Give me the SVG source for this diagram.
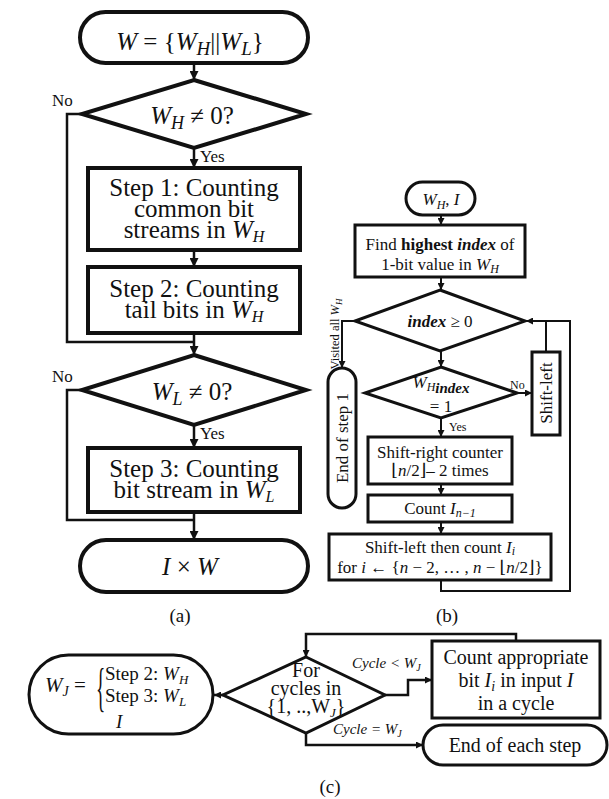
<svg xmlns="http://www.w3.org/2000/svg" width="609" height="799" viewBox="0 0 609 799" font-family="'Liberation Serif', 'DejaVu Serif', serif">
  <defs>
    <marker id="arr" viewBox="0 0 10 10" refX="10" refY="5" markerWidth="9" markerHeight="9" markerUnits="userSpaceOnUse" orient="auto">
      <path d="M0,0 L10,5 L0,10 z" fill="#111"/>
    </marker>
    <marker id="arrS" viewBox="0 0 10 10" refX="10" refY="5" markerWidth="7" markerHeight="7" markerUnits="userSpaceOnUse" orient="auto">
      <path d="M0,0 L10,5 L0,10 z" fill="#111"/>
    </marker>
  </defs>
  <style>
    text { font-family: 'Liberation Serif', 'DejaVu Serif', serif; fill: #111; }
    .sa { fill: #fff; stroke: #111; stroke-width: 4; }
    .sb { fill: #fff; stroke: #111; stroke-width: 3; }
    .sc { fill: #fff; stroke: #111; stroke-width: 3; }
    .la { fill: none; stroke: #111; stroke-width: 2.5; }
    .lb { fill: none; stroke: #111; stroke-width: 2; }
    .lc { fill: none; stroke: #111; stroke-width: 2.5; }
    .i { font-style: italic; }
    .bi { font-style: italic; font-weight: bold; }
    .ta { font-size: 25px; text-anchor: middle; }
    .tb { font-size: 17px; text-anchor: middle; }
    .tc { font-size: 20px; text-anchor: middle; }
    .cap { font-size: 19px; text-anchor: middle; }
  </style>

  <rect width="609" height="799" fill="#fff"/>

  <!-- ===== (a) overall flow ===== -->
  <g id="connectors-a">
    <line class="la" x1="194" y1="63" x2="194" y2="80" marker-end="url(#arr)"/>
    <line class="la" x1="194" y1="148" x2="194" y2="168" marker-end="url(#arr)"/>
    <line class="la" x1="194" y1="250" x2="194" y2="267" marker-end="url(#arr)"/>
    <line class="la" x1="194" y1="333" x2="194" y2="355" marker-end="url(#arr)"/>
    <polyline class="la" points="82,114 67,114 67,342 194,342"/>
    <line class="la" x1="194" y1="425" x2="194" y2="448" marker-end="url(#arr)"/>
    <line class="la" x1="194" y1="512" x2="194" y2="540" marker-end="url(#arr)"/>
    <polyline class="la" points="82,390 67,390 67,520 194,520"/>
    <text x="52" y="106" font-size="17">No</text>
    <text x="200" y="162" font-size="17">Yes</text>
    <text x="52" y="382" font-size="17">No</text>
    <text x="200" y="439" font-size="17">Yes</text>
  </g>

  <g id="a-start">
    <rect class="sa" x="80" y="12" width="228" height="51" rx="25.5"/>
    <text class="ta" x="190" y="50" font-size="29"><tspan class="i">W</tspan> = {<tspan class="i">W</tspan><tspan font-size="19" dy="5" class="i">H</tspan><tspan dy="-5">||</tspan><tspan class="i">W</tspan><tspan font-size="19" dy="5" class="i">L</tspan><tspan dy="-5">}</tspan></text>
  </g>
  <g id="a-check-wh">
    <polygon class="sa" points="194,80 306,114 194,148 82,114"/>
    <text class="ta" x="192" y="124" font-size="27"><tspan class="i">W</tspan><tspan font-size="18" dy="5" class="i">H</tspan><tspan dy="-5"> ≠ 0?</tspan></text>
  </g>
  <g id="a-step1">
    <rect class="sa" x="88" y="168" width="212" height="82"/>
    <text class="ta" x="194" y="196">Step 1: Counting</text>
    <text class="ta" x="194" y="217">common bit</text>
    <text class="ta" x="194" y="238">streams in <tspan class="i">W</tspan><tspan font-size="16" dy="4" class="i">H</tspan></text>
  </g>
  <g id="a-step2">
    <rect class="sa" x="88" y="267" width="212" height="66"/>
    <text class="ta" x="194" y="297">Step 2: Counting</text>
    <text class="ta" x="194" y="318">tail bits in <tspan class="i">W</tspan><tspan font-size="16" dy="4" class="i">H</tspan></text>
  </g>
  <g id="a-check-wl">
    <polygon class="sa" points="194,355 306,390 194,425 82,390"/>
    <text class="ta" x="192" y="400" font-size="27"><tspan class="i">W</tspan><tspan font-size="18" dy="5" class="i">L</tspan><tspan dy="-5"> ≠ 0?</tspan></text>
  </g>
  <g id="a-step3">
    <rect class="sa" x="88" y="448" width="212" height="64"/>
    <text class="ta" x="194" y="477">Step 3: Counting</text>
    <text class="ta" x="194" y="498">bit stream in <tspan class="i">W</tspan><tspan font-size="16" dy="4" class="i">L</tspan></text>
  </g>
  <g id="a-end">
    <rect class="sa" x="80" y="540" width="228" height="52" rx="26"/>
    <text class="ta" x="190" y="575" font-size="28"><tspan class="i">I</tspan> × <tspan class="i">W</tspan></text>
  </g>
  <text class="cap" x="180" y="622">(a)</text>

  <!-- ===== (b) step 1 detail ===== -->
  <g id="connectors-b">
    <line class="lb" x1="441" y1="215" x2="441" y2="225" marker-end="url(#arrS)"/>
    <line class="lb" x1="441" y1="277" x2="441" y2="290" marker-end="url(#arrS)"/>
    <line class="lb" x1="441" y1="351" x2="441" y2="367" marker-end="url(#arrS)"/>
    <line class="lb" x1="441" y1="418" x2="441" y2="437" marker-end="url(#arrS)"/>
    <line class="lb" x1="441" y1="484" x2="441" y2="495" marker-end="url(#arrS)"/>
    <line class="lb" x1="441" y1="522" x2="441" y2="534" marker-end="url(#arrS)"/>
    <line class="lb" x1="517" y1="393" x2="532" y2="393" marker-end="url(#arrS)"/>
    <polyline class="lb" points="441,580 441,591 570,591 570,321 526,321" marker-end="url(#arrS)"/>
    <line class="lb" x1="546" y1="352" x2="546" y2="321"/>
    <polyline class="lb" points="356,321 342,321 342,368" marker-end="url(#arrS)"/>
    <text x="510" y="389" font-size="12">No</text>
    <text x="449" y="431" font-size="12">Yes</text>
    <text transform="translate(339,334) rotate(-90)" font-size="12.5" text-anchor="middle">Visited all <tspan class="i">W</tspan><tspan class="i" font-size="9" dy="3">H</tspan></text>
  </g>

  <g id="b-start">
    <rect class="sb" x="406" y="182" width="69" height="33" rx="16.5"/>
    <text class="tb" x="441" y="205" font-size="18"><tspan class="i">W</tspan><tspan class="i" font-size="12" dy="4">H</tspan><tspan dy="-4">, </tspan><tspan class="i">I</tspan></text>
  </g>
  <g id="b-find">
    <rect class="sb" x="355" y="225" width="170" height="52"/>
    <text class="tb" x="440" y="250">Find <tspan font-weight="bold">highest</tspan> <tspan class="bi">index</tspan> of</text>
    <text class="tb" x="440" y="270">1-bit value in <tspan class="i">W</tspan><tspan class="i" font-size="12" dy="3">H</tspan></text>
  </g>
  <g id="b-index">
    <polygon class="sb" points="440,290 525,321 440,351 355,321"/>
    <text class="tb" x="440" y="327" font-size="18"><tspan class="bi">index</tspan> ≥ 0</text>
  </g>
  <g id="b-bit">
    <polygon class="sb" points="441,367 517,393 441,418 365,393"/>
    <text class="tb" x="441" y="388" font-size="18"><tspan class="i">W</tspan><tspan class="i" font-size="12" dy="3">H</tspan><tspan class="bi" font-size="15" dy="2">index</tspan></text>
    <text class="tb" x="441" y="412" font-size="18">= 1</text>
  </g>
  <g id="b-shift-left">
    <rect class="sb" x="532" y="352" width="28" height="83"/>
    <text class="tb" transform="translate(552,393) rotate(-90)">Shift-left</text>
  </g>
  <g id="b-end">
    <rect class="sb" x="328" y="368" width="28" height="140" rx="14"/>
    <text class="tb" transform="translate(348,438) rotate(-90)" font-size="18">End of step 1</text>
  </g>
  <g id="b-shift-right">
    <rect class="sb" x="368" y="437" width="144" height="47"/>
    <text class="tb" x="440" y="458">Shift-right counter</text>
    <text class="tb" x="440" y="476">⌊<tspan class="i">n</tspan>/2⌋– 2 times</text>
  </g>
  <g id="b-count">
    <rect class="sb" x="368" y="495" width="144" height="27"/>
    <text class="tb" x="440" y="514">Count <tspan class="i">I</tspan><tspan class="i" font-size="12" dy="3">n−1</tspan></text>
  </g>
  <g id="b-shift-count">
    <rect class="sb" x="329" y="534" width="222" height="46"/>
    <text class="tb" x="440" y="553">Shift-left then count <tspan class="i">I</tspan><tspan class="i" font-size="12" dy="2">i</tspan></text>
    <text class="tb" x="440" y="573">for <tspan class="i">i</tspan> ← {<tspan class="i">n</tspan> − 2, … , <tspan class="i">n</tspan> − ⌊<tspan class="i">n</tspan>/2⌋}</text>
  </g>
  <text class="cap" x="447" y="622">(b)</text>

  <!-- ===== (c) per-step loop ===== -->
  <g id="connectors-c">
    <line class="lc" x1="223" y1="695" x2="214" y2="695" marker-end="url(#arrS)"/>
    <polyline class="lc" points="516,641 516,634 306,634 306,657" marker-end="url(#arrS)"/>
    <polyline class="lc" points="385,695 408,695 408,680 432,680" marker-end="url(#arrS)"/>
    <polyline class="lc" points="306,733 306,745 423,745" marker-end="url(#arrS)"/>
    <text x="352" y="668" font-size="15" class="i">Cycle &lt; W<tspan font-size="10" dy="3">J</tspan></text>
    <text x="333" y="734" font-size="15" class="i">Cycle = W<tspan font-size="10" dy="3">J</tspan></text>
  </g>

  <g id="c-start">
    <rect class="sc" x="29" y="655" width="184" height="79" rx="39.5"/>
    <text x="45" y="692" font-size="21"><tspan class="i">W</tspan><tspan class="i" font-size="14" dy="4">J</tspan><tspan dy="-4"> =</tspan></text>
    <text transform="translate(96,705) scale(0.42,1.15)" font-size="46">{</text>
    <text x="105" y="680" font-size="19">Step 2: <tspan class="i">W</tspan><tspan class="i" font-size="13" dy="4">H</tspan></text>
    <text x="105" y="702" font-size="19">Step 3: <tspan class="i">W</tspan><tspan class="i" font-size="13" dy="4">L</tspan></text>
    <text x="116" y="728" font-size="19" class="i">I</text>
  </g>
  <g id="c-loop">
    <polygon class="sc" points="306,657 385,695 306,733 223,695"/>
    <text class="tc" x="306" y="677" font-size="19">For</text>
    <text class="tc" x="306" y="695" font-size="19">cycles in</text>
    <text class="tc" x="306" y="713" font-size="19">{1, ..,W<tspan class="i" font-size="13" dy="4">J</tspan><tspan dy="-4">}</tspan></text>
  </g>
  <g id="c-count">
    <rect class="sc" x="432" y="641" width="168" height="77"/>
    <text class="tc" x="516" y="664">Count appropriate</text>
    <text class="tc" x="516" y="687">bit <tspan class="i">I</tspan><tspan class="i" font-size="14" dy="4">i</tspan><tspan dy="-4"> in input </tspan><tspan class="i">I</tspan></text>
    <text class="tc" x="516" y="710">in a cycle</text>
  </g>
  <g id="c-end">
    <rect class="sc" x="423" y="725" width="184" height="40" rx="20"/>
    <text class="tc" x="515" y="752">End of each step</text>
  </g>
  <text class="cap" x="330" y="793">(c)</text>
</svg>
